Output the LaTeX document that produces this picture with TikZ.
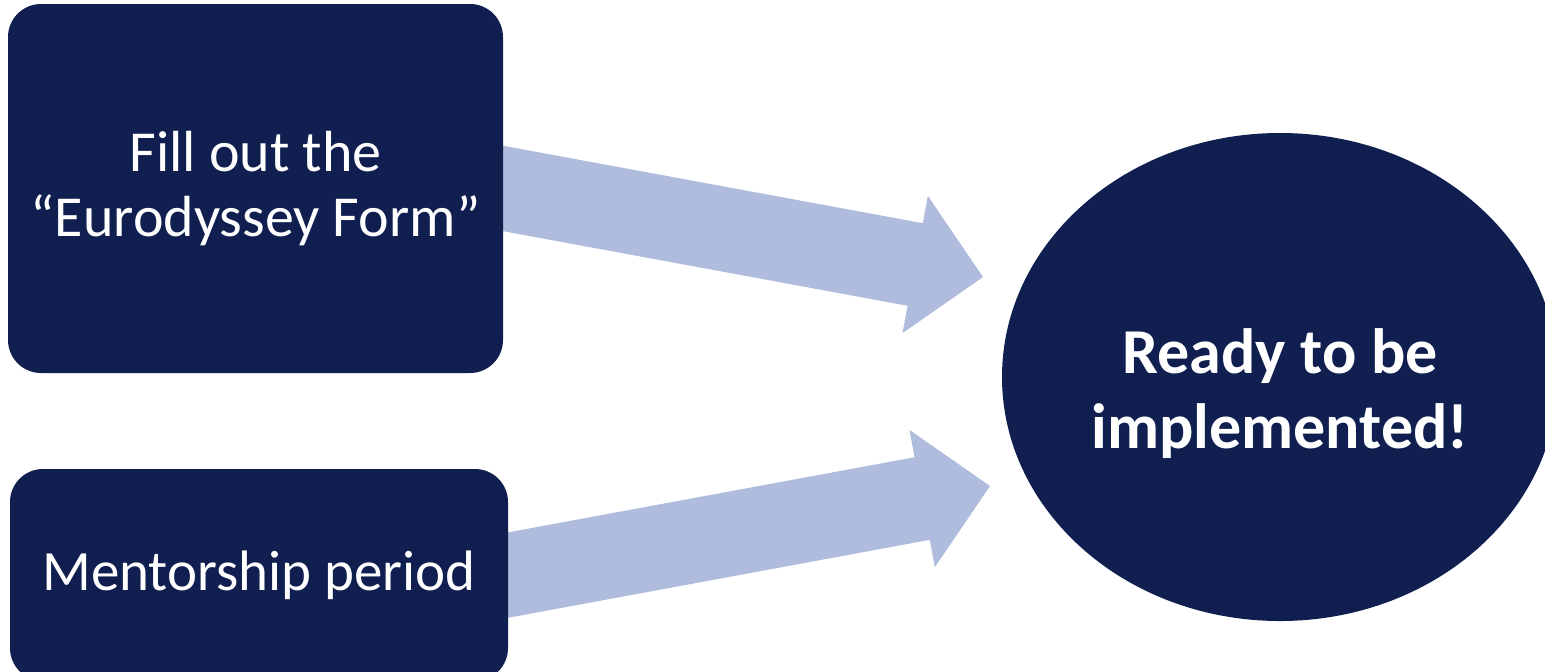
\documentclass[tikz,border=0pt]{standalone}
\usepackage{fontspec}
\setmainfont{Carlito}
\usetikzlibrary{arrows.meta,shapes.geometric,backgrounds,calc}
\definecolor{navy}{RGB}{16,31,80}
\definecolor{flowblue}{RGB}{175,188,221}

\begin{document}
\begin{tikzpicture}[x=0.5pt,y=-0.5pt,
		stage/.style={fill=navy,rounded corners=16.5pt,text=white,align=center,inner sep=0pt},
		flow/.style={draw=flowblue,line width=42pt,-{Triangle[length=34.5pt,width=69.5pt,line width=1.5pt]}}]
		\useasboundingbox (0,0) rectangle (1545,671);
		\node[stage,minimum width=247.5pt,minimum height=184.5pt,font=\fontsize{29}{32.5}\selectfont] (form) at (255.5,188.5) {Fill out the\\“Eurodyssey Form”};
		\node[stage,minimum width=249pt,minimum height=106pt,font=\fontsize{28.5}{32}\selectfont] (mentor) at (259,575) {Mentorship period};
		\node[ellipse,fill=navy,minimum width=278pt,minimum height=244pt,inner sep=0pt] (goal) at (1280,377) {};
		\node[text=white,align=center,font=\bfseries\fontsize{32}{37.5}\selectfont] (goaltext) at ([yshift=-8.5pt]goal.center) {Ready to be\\implemented!};
		\coordinate (tip1) at (983,277);
		\coordinate (tip2) at (990,486);
		\begin{scope}[on background layer]
			\draw[flow] ($(form.east)!-10pt!(tip1)$) -- (tip1);
			\draw[flow] ($(mentor.east)!-10pt!(tip2)$) -- (tip2);
		\end{scope}
	\end{tikzpicture}
\end{document}
